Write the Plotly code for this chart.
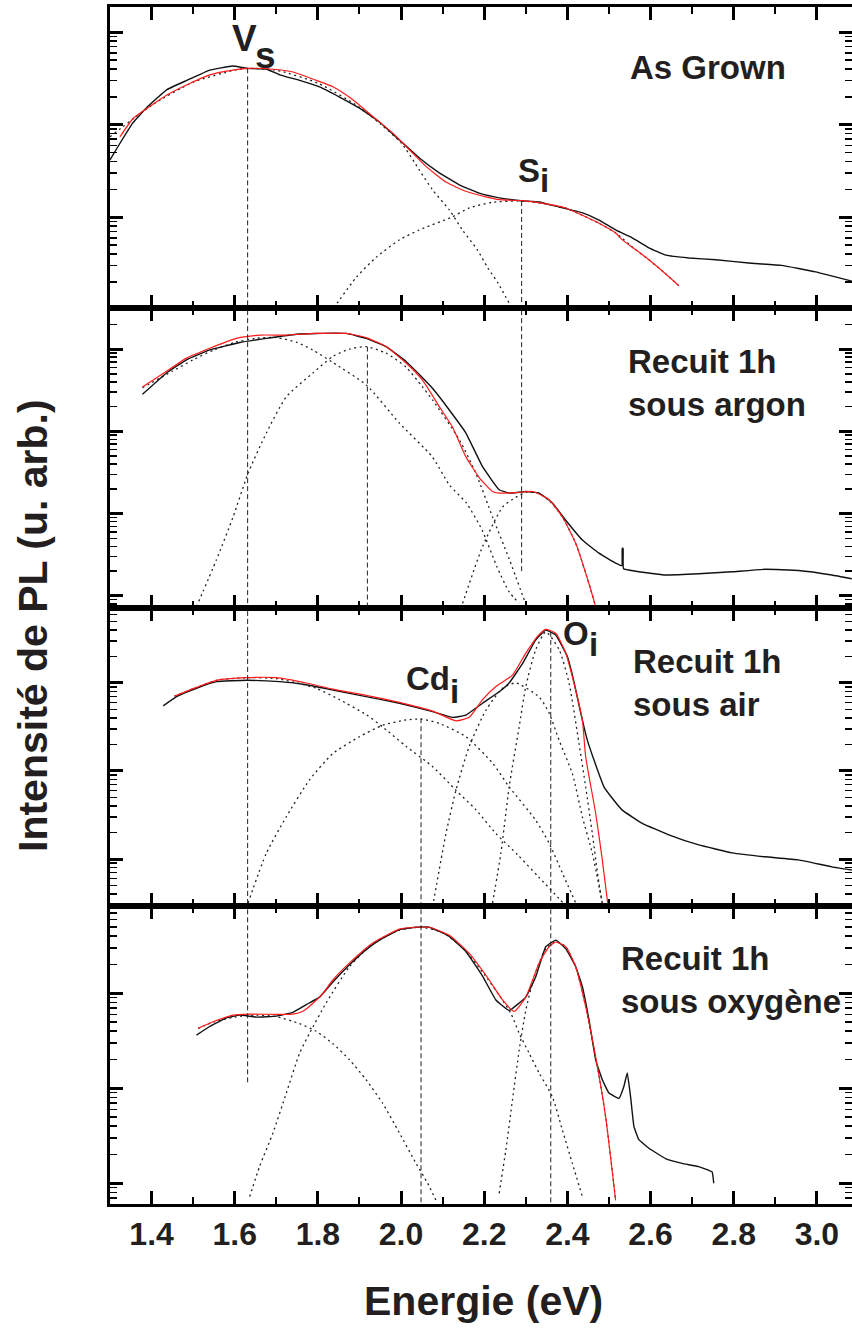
import plotly.graph_objects as go

# ---------------- Panel 1 : As Grown ----------------
ag_E = [1.300, 1.324, 1.355, 1.389, 1.437, 1.485, 1.540, 1.595, 1.629, 1.677, 1.708, 1.756, 1.804, 1.852,
        1.900, 1.948, 1.996, 2.044, 2.092, 2.140, 2.188, 2.236, 2.289, 2.332, 2.380, 2.435, 2.476, 2.517,
        2.555, 2.596, 2.637, 2.692, 2.757, 2.836, 2.915, 2.997, 3.084]
ag_I = [41.7, 63.1, 104.7, 154.9, 239.9, 302.0, 389.0, 431.5, 407.4, 398.1, 346.7, 302.0, 257.0, 199.5,
        151.4, 107.2, 68.4, 43.7, 30.2, 22.4, 18.2, 16.2, 15.1, 14.6, 12.9, 11.2, 9.33, 7.24,
        6.03, 4.68, 3.89, 3.63, 3.47, 3.20, 3.02, 2.57, 2.04]
ag_fit_E = [1.324, 1.356, 1.396, 1.436, 1.484, 1.540, 1.596, 1.632, 1.692, 1.740, 1.796, 1.836, 1.884, 1.932,
            1.980, 2.020, 2.060, 2.108, 2.156, 2.204, 2.236, 2.292, 2.356, 2.396, 2.436, 2.476, 2.516, 2.532,
            2.564, 2.596, 2.636, 2.668]
ag_fit_I = [74.1, 117.5, 158.5, 208.9, 269.2, 346.7, 389.0, 407.4, 398.1, 371.5, 302.0, 257.0, 186.2, 123.0,
            81.3, 53.7, 35.5, 24.0, 19.1, 16.6, 15.5, 15.1, 13.8, 12.6, 10.5, 8.61, 6.76, 5.69,
            4.47, 3.47, 2.45, 1.82]
ag_vs_E = [1.300, 1.400, 1.500, 1.600, 1.632, 1.700, 1.800, 1.900, 1.950, 2.001, 2.044, 2.075, 2.116, 2.148,
           2.183, 2.209, 2.233, 2.260]
ag_vs_I = [74.1, 162.2, 288.4, 389.0, 407.4, 389.0, 281.8, 154.9, 102.3, 63.1, 32.4, 19.95, 12.0, 7.24,
           4.47, 2.82, 1.95, 1.175]
ag_si_E = [1.838, 1.893, 1.941, 1.996, 2.044, 2.123, 2.164, 2.219, 2.290, 2.356, 2.396, 2.436, 2.476, 2.516,
           2.564, 2.596, 2.636, 2.668]
ag_si_I = [1.047, 2.26, 3.72, 5.69, 7.29, 10.07, 12.6, 14.5, 15.0, 13.8, 12.6, 10.5, 8.61, 6.76,
           4.47, 3.47, 2.45, 1.82]

# ---------------- Panel 2 : Recuit 1h sous argon ----------------
ar_E = [1.378, 1.436, 1.484, 1.540, 1.612, 1.676, 1.748, 1.796, 1.868, 1.916, 1.964, 2.012, 2.044, 2.076,
        2.116, 2.156, 2.196, 2.236, 2.260, 2.300, 2.332, 2.364, 2.396, 2.436, 2.476, 2.516, 2.531, 2.532,
        2.534, 2.535, 2.564, 2.636, 2.716, 2.796, 2.876, 2.956, 3.036, 3.084]
ar_I = [281.8, 512.9, 741.3, 977.2, 1202, 1349, 1514, 1549, 1549, 1349, 1072, 707.9, 489.8, 331.1,
        182.0, 95.5, 37.2, 19.5, 17.8, 18.6, 17.8, 13.5, 8.32, 4.79, 3.31, 2.51, 2.34, 3.80,
        3.80, 2.14, 2.00, 1.80, 1.86, 1.97, 2.11, 2.04, 1.80, 1.62]
ar_fit_E = [1.378, 1.436, 1.484, 1.540, 1.604, 1.660, 1.724, 1.796, 1.868, 1.916, 1.964, 2.012, 2.052, 2.092,
            2.124, 2.156, 2.188, 2.220, 2.236, 2.276, 2.316, 2.356, 2.388, 2.420, 2.452, 2.468]
ar_fit_I = [346.7, 537.0, 776.2, 1023, 1349, 1479, 1479, 1549, 1549, 1380, 1072, 676.1, 416.9, 199.5,
            112.2, 49.0, 27.5, 18.6, 17.8, 18.0, 18.6, 14.8, 9.12, 4.37, 1.41, 0.741]
ar_vs_E = [1.378, 1.450, 1.500, 1.550, 1.600, 1.650, 1.700, 1.750, 1.787, 1.835, 1.917, 1.996, 2.075, 2.116,
           2.157, 2.195, 2.231, 2.260, 2.284]
ar_vs_I = [338.8, 537.0, 741.3, 977.2, 1202, 1349, 1380, 1202, 977.2, 691.8, 363.1, 125.9, 49.0, 22.4,
           13.5, 6.31, 2.24, 1.122, 0.813]
ar_b_E = [1.508, 1.556, 1.596, 1.632, 1.676, 1.724, 1.788, 1.836, 1.876, 1.916, 1.964, 2.012, 2.050, 2.076,
          2.140, 2.180, 2.220, 2.260, 2.300]
ar_b_I = [0.741, 2.75, 9.12, 30.9, 95.5, 263.0, 512.9, 812.8, 1000, 1072, 891.3, 602.6, 354.8, 239.9,
          79.4, 30.9, 9.12, 2.82, 0.794]
ar_si_E = [2.148, 2.196, 2.244, 2.276, 2.300, 2.330, 2.356, 2.388, 2.420, 2.452, 2.468]
ar_si_I = [0.813, 3.98, 12.0, 15.8, 18.2, 17.8, 14.5, 9.12, 4.37, 1.41, 0.741]

# ---------------- Panel 3 : Recuit 1h sous air ----------------
air_E = [1.428, 1.460, 1.508, 1.556, 1.628, 1.708, 1.772, 1.836, 1.916, 1.996, 2.076, 2.124, 2.156, 2.196,
         2.236, 2.260, 2.292, 2.324, 2.348, 2.372, 2.400, 2.416, 2.432, 2.448, 2.464, 2.488, 2.508, 2.532,
         2.580, 2.644, 2.716, 2.796, 2.876, 2.956, 3.036, 3.084]
air_I = [55.0, 70.0, 87.1, 103.5, 107.2, 103.5, 95.5, 83.2, 70.0, 58.9, 47.3, 40.7, 43.2, 58.9,
         79.4, 100.0, 166.0, 309.0, 398.1, 350.8, 199.5, 102.3, 45.7, 22.4, 13.3, 6.61, 4.90, 3.59,
         2.54, 1.88, 1.445, 1.175, 1.059, 0.977, 0.813, 0.750]
air_fit_E = [1.455, 1.508, 1.556, 1.628, 1.700, 1.772, 1.836, 1.916, 1.996, 2.076, 2.132, 2.164, 2.196, 2.228,
             2.268, 2.300, 2.328, 2.348, 2.372, 2.396, 2.412, 2.436, 2.444, 2.468, 2.484, 2.498]
air_fit_I = [70.8, 89.1, 107.2, 114.8, 114.8, 100.0, 85.1, 72.4, 60.3, 47.9, 37.2, 40.7, 64.6, 91.2,
             123.0, 218.8, 338.8, 407.4, 367.3, 218.8, 117.5, 38.0, 14.5, 3.31, 0.977, 0.288]
air_vs_E = [1.455, 1.508, 1.556, 1.628, 1.700, 1.750, 1.796, 1.852, 1.916, 1.956, 2.012, 2.076, 2.132, 2.180,
            2.228, 2.280, 2.330, 2.380, 2.400]
air_vs_I = [70.8, 89.1, 107.2, 114.8, 112.2, 100.0, 87.1, 64.6, 43.7, 31.6, 19.05, 11.2, 6.03, 3.63,
            1.95, 1.122, 0.631, 0.355, 0.282]
air_cd_E = [1.632, 1.676, 1.724, 1.780, 1.836, 1.900, 1.956, 2.012, 2.048, 2.092, 2.156, 2.220, 2.260, 2.324,
            2.356, 2.388, 2.420]
air_cd_I = [0.316, 1.161, 3.02, 7.94, 15.8, 24.5, 33.1, 38.0, 38.9, 34.7, 24.5, 12.3, 6.61, 2.75,
            1.514, 0.692, 0.316]
air_si_E = [2.076, 2.108, 2.132, 2.164, 2.204, 2.244, 2.276, 2.332, 2.356, 2.380, 2.412, 2.436, 2.460, 2.484]
air_si_I = [0.288, 1.95, 6.03, 19.05, 49.0, 87.1, 100.0, 69.2, 45.7, 22.4, 9.33, 3.02, 1.161, 0.316]
air_oi_E = [2.220, 2.240, 2.260, 2.284, 2.300, 2.324, 2.348, 2.380, 2.404, 2.428, 2.444, 2.460, 2.476, 2.484]
air_oi_I = [0.316, 1.161, 6.61, 31.6, 91.2, 239.9, 380.2, 239.9, 100.0, 20.4, 6.61, 1.95, 0.525, 0.316]

# ---------------- Panel 4 : Recuit 1h sous oxygène ----------------
ox_E = [1.508, 1.540, 1.580, 1.612, 1.652, 1.700, 1.740, 1.772, 1.804, 1.836, 1.876, 1.916, 1.956, 1.996,
        2.036, 2.068, 2.116, 2.156, 2.196, 2.228, 2.260, 2.300, 2.324, 2.348, 2.372, 2.396, 2.420, 2.436,
        2.452, 2.468, 2.484, 2.500, 2.524, 2.536, 2.544, 2.552, 2.560, 2.572, 2.596, 2.636, 2.676, 2.716,
        2.748, 2.752]
ox_I = [36.3, 44.7, 55.0, 58.9, 56.2, 57.5, 63.1, 75.9, 91.2, 131.8, 199.5, 288.4, 380.2, 467.7,
        495.5, 495.5, 398.1, 275.4, 151.4, 85.1, 66.1, 91.2, 149.6, 309.0, 363.1, 295.1, 190.5, 117.5,
        52.5, 19.95, 12.3, 8.91, 7.85, 10.5, 14.5, 8.13, 3.98, 2.88, 2.34, 1.82, 1.62, 1.496,
        1.318, 1.0]
ox_fit_E = [1.512, 1.548, 1.596, 1.636, 1.740, 1.764, 1.788, 1.812, 1.836, 1.876, 1.932, 1.996, 2.036, 2.068,
            2.116, 2.164, 2.212, 2.244, 2.272, 2.300, 2.332, 2.356, 2.372, 2.396, 2.420, 2.444, 2.468, 2.492,
            2.516]
ox_fit_I = [42.7, 50.1, 58.9, 60.3, 60.3, 64.6, 78.5, 100.0, 138.0, 208.9, 338.8, 473.2, 495.5, 495.5,
            407.4, 263.0, 138.0, 85.1, 64.6, 91.2, 208.9, 309.0, 346.7, 309.0, 190.5, 72.4, 21.4, 5.01,
            0.661]
ox_vs_E = [1.512, 1.550, 1.600, 1.650, 1.700, 1.756, 1.796, 1.836, 1.876, 1.916, 1.956, 1.996, 2.036, 2.064,
           2.084]
ox_vs_I = [42.7, 50.1, 56.2, 58.9, 56.9, 47.9, 39.8, 29.5, 19.95, 12.3, 6.92, 3.39, 1.62, 1.0, 0.661]
ox_cd_E = [1.636, 1.660, 1.692, 1.724, 1.756, 1.780, 1.820, 1.876, 1.932, 1.996, 2.050, 2.100, 2.150, 2.200,
           2.236, 2.264, 2.284, 2.308, 2.332, 2.364, 2.388, 2.412, 2.436]
ox_cd_I = [0.724, 1.514, 3.39, 8.91, 23.4, 38.0, 79.4, 190.5, 331.1, 462.4, 495.5, 436.5, 295.1, 158.5,
           95.5, 61.7, 38.0, 23.4, 14.5, 8.13, 3.63, 1.62, 0.724]
ox_oi_E = [2.236, 2.252, 2.268, 2.284, 2.300, 2.320, 2.348, 2.372, 2.396, 2.420, 2.444, 2.468, 2.492, 2.516]
ox_oi_I = [0.785, 2.24, 7.59, 25.1, 66.1, 147.9, 295.1, 346.7, 309.0, 190.5, 72.4, 21.4, 5.01, 0.661]

# ---------------- peak positions (eV) and dashed-marker extents ----------------
peak_names = ["Vs", "Si", "B", "Cdi", "Oi"]
peak_E = [1.631, 2.290, 1.919, 2.048, 2.360]
# (panel index, top intensity, bottom intensity) ; big/small values = whole panel height
peak_segments = [
    [(0, 407.4, 1e-3), (1, 1e6, 1e-3), (2, 1e6, 1e-3), (3, 1e6, 10.8)],
    [(0, 15.0, 1e-3), (1, 1e6, 1.905)],
    [(1, 1072, 1e-3)],
    [(2, 39.8, 1e-3), (3, 1e6, 1e-3)],
    [(2, 380.2, 1e-3), (3, 1e6, 1e-3)],
]

panel_titles = ["As Grown", "Recuit 1h<br>sous argon", "Recuit 1h<br>sous air", "Recuit 1h<br>sous oxygène"]
x_ticks = [1.4, 1.6, 1.8, 2.0, 2.2, 2.4, 2.6, 2.8, 3.0]

panels = [
    dict(data=(ag_E, ag_I), fit=(ag_fit_E, ag_fit_I), comps=[(ag_vs_E, ag_vs_I), (ag_si_E, ag_si_I)]),
    dict(data=(ar_E, ar_I), fit=(ar_fit_E, ar_fit_I),
         comps=[(ar_vs_E, ar_vs_I), (ar_b_E, ar_b_I), (ar_si_E, ar_si_I)]),
    dict(data=(air_E, air_I), fit=(air_fit_E, air_fit_I),
         comps=[(air_vs_E, air_vs_I), (air_cd_E, air_cd_I), (air_si_E, air_si_I), (air_oi_E, air_oi_I)]),
    dict(data=(ox_E, ox_I), fit=(ox_fit_E, ox_fit_I),
         comps=[(ox_vs_E, ox_vs_I), (ox_cd_E, ox_cd_I), (ox_oi_E, ox_oi_I)]),
]

# ---------------- layout geometry ----------------
W, H = 852, 1328
ML, MR, MT, MB = 110, 0, 7, 124
domains = [[0.74854, 1.0], [0.49791, 0.74854], [0.24896, 0.49791], [0.0, 0.24896]]
y_log_ranges = [[0.019, 3.273], [-0.146, 3.499], [-0.534, 2.852], [-0.218, 2.919]]
x_range = [1.3, 3.0845]

FONT = "Liberation Sans, Arial, sans-serif"
INK = "#231f20"

fig = go.Figure()


def ax_names(i):
    s = "" if i == 0 else str(i + 1)
    return "x" + s, "y" + s


for i, p in enumerate(panels):
    xr, yr = ax_names(i)
    # gaussian components (dotted)
    for cE, cI in p["comps"]:
        fig.add_trace(go.Scatter(x=cE, y=cI, mode="lines", xaxis=xr, yaxis=yr,
                                 line=dict(color="#222222", width=1.3, dash="2px,3.5px", shape="spline",
                                           smoothing=0.6),
                                 hoverinfo="skip"))
    # measured spectrum (black)
    fig.add_trace(go.Scatter(x=p["data"][0], y=p["data"][1], mode="lines", xaxis=xr, yaxis=yr,
                             line=dict(color="#111111", width=1.4, shape="spline", smoothing=0.3),
                             hoverinfo="skip"))
    # fit (red)
    fig.add_trace(go.Scatter(x=p["fit"][0], y=p["fit"][1], mode="lines", xaxis=xr, yaxis=yr,
                             line=dict(color="#ff1a1a", width=1.2, shape="spline", smoothing=0.5),
                             hoverinfo="skip"))

# dashed peak markers
for e, segs in zip(peak_E, peak_segments):
    for (pi, top, bot) in segs:
        xr, yr = ax_names(pi)
        fig.add_trace(go.Scatter(x=[e, e], y=[top, bot], mode="lines", xaxis=xr, yaxis=yr,
                                 line=dict(color="#222222", width=1, dash="5px,3px"), hoverinfo="skip"))

layout = dict(width=W, height=H, margin=dict(l=ML, r=MR, t=MT, b=MB, autoexpand=False),
              paper_bgcolor="white", plot_bgcolor="white", showlegend=False,
              font=dict(family=FONT, color=INK))

for i in range(4):
    xr, yr = ax_names(i)
    xkey = "xaxis" if i == 0 else f"xaxis{i + 1}"
    ykey = "yaxis" if i == 0 else f"yaxis{i + 1}"
    layout[xkey] = dict(domain=[0, 1], anchor=yr, range=x_range, tickmode="array", tickvals=x_ticks,
                        ticktext=[f"{v:.1f}" for v in x_ticks], automargin=False,
                        showticklabels=(i == 3), ticks="inside", ticklen=13, tickwidth=3, tickcolor="black",
                        minor=dict(ticks="inside", ticklen=7, tickwidth=2, tickcolor="black", dtick=0.1,
                                   tick0=1.3, showgrid=False),
                        showline=True, linewidth=3, linecolor="black", mirror="ticks",
                        showgrid=False, zeroline=False,
                        tickfont=dict(family=FONT, size=32, color=INK, weight="bold"))
    layout[ykey] = dict(domain=domains[i], anchor=xr, type="log", range=y_log_ranges[i], automargin=False,
                        dtick=1, tick0=0, showticklabels=False, ticks="inside", ticklen=13, tickwidth=3,
                        tickcolor="black",
                        minor=dict(ticks="inside", ticklen=7, tickwidth=1.5, tickcolor="black", dtick="D1",
                                   showgrid=False),
                        showline=True, linewidth=3, linecolor="black", mirror="ticks",
                        showgrid=False, zeroline=False)

fig.update_layout(**layout)

# ---------------- text ----------------
ann = []
title_pos = [(2.737, 2.614, "center"), (2.541, 2.588, "left"), (2.552, 2.0, "left"), (2.524, 2.14, "left")]
for i, (t, (x, y, xa)) in enumerate(zip(panel_titles, title_pos)):
    xr, yr = ax_names(i)
    ann.append(dict(text=t, x=x, y=y, xref=xr, yref=yr, xanchor=xa, yanchor="middle", align="left",
                    showarrow=False, font=dict(family=FONT, size=33, color=INK, weight="bold")))

peak_labels = [
    (0, "V", 1.624, 2.933, 37), (0, "s", 1.674, 2.749, 37),
    (0, "S", 2.308, 1.509, 33), (0, "i", 2.344, 1.398, 33),
    (2, "Cd", 2.064, 2.051, 33), (2, "i", 2.129, 1.898, 33),
    (2, "O", 2.420, 2.557, 33), (2, "i", 2.464, 2.432, 33),
]
for pi, t, x, y, s in peak_labels:
    xr, yr = ax_names(pi)
    ann.append(dict(text=t, x=x, y=y, xref=xr, yref=yr, xanchor="center", yanchor="middle",
                    showarrow=False, font=dict(family=FONT, size=s, color=INK, weight="bold")))

ann.append(dict(text="Energie (eV)", x=0.504, y=-0.081, xref="paper", yref="paper", xanchor="center",
                yanchor="middle", showarrow=False, font=dict(family=FONT, size=41, color=INK, weight="bold")))
ann.append(dict(text="Intensité de PL (u. arb.)", x=-0.1038, y=0.4837, xref="paper", yref="paper",
                xanchor="center", yanchor="middle", textangle=-90, showarrow=False,
                font=dict(family=FONT, size=41, color=INK, weight="bold")))

fig.update_layout(annotations=ann)
fig.write_html("out.html", config={"displayModeBar": False, "staticPlot": True},
               post_script="document.body.style.margin='0';document.body.style.padding='0';"
                           "document.body.style.overflow='hidden';")
